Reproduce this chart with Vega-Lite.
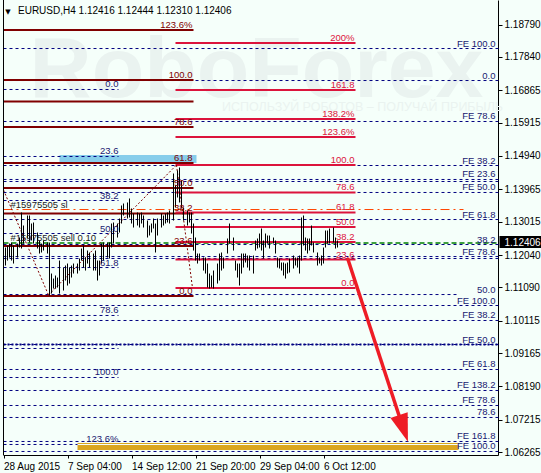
{
 "$schema": "https://vega.github.io/schema/vega-lite/v6.json",
 "width": 495,
 "height": 455,
 "autosize": {"type": "none"},
 "padding": {"left": 3, "top": 0, "right": 43, "bottom": 18},
 "background": "#F5FFFA",
 "config": {
  "view": {"stroke": null},
  "axis": {"grid": false, "labelFont": "Liberation Sans", "labelFontSize": 10, "labelColor": "#000000", "domainColor": "#000000", "tickColor": "#000000", "title": null, "labelOverlap": false},
  "text": {"font": "Liberation Sans", "fontSize": 9.5}
 },
 "datasets": {
  "bars": [
   {"i":1,"h":1.12259,"l":1.11732},{"i":2,"h":1.12318,"l":1.11878},{"i":3,"h":1.12376,"l":1.11966},{"i":4,"h":1.12406,"l":1.11878},
   {"i":5,"h":1.12318,"l":1.11790},{"i":7,"h":1.12376,"l":1.11966},{"i":8,"h":1.12552,"l":1.12259},{"i":9,"h":1.13285,"l":1.12230},
   {"i":10,"h":1.12904,"l":1.12376},{"i":12,"h":1.13197,"l":1.12523},{"i":13,"h":1.13197,"l":1.12406},{"i":14,"h":1.12962,"l":1.12464},
   {"i":15,"h":1.12992,"l":1.12376},{"i":17,"h":1.12699,"l":1.12230},{"i":18,"h":1.12464,"l":1.12083},{"i":19,"h":1.12376,"l":1.12113},
   {"i":20,"h":1.12464,"l":1.12171},{"i":22,"h":1.12406,"l":1.12083},{"i":23,"h":1.12406,"l":1.10853},{"i":24,"h":1.11497,"l":1.10911},
   {"i":25,"h":1.11351,"l":1.11058},{"i":26,"h":1.11439,"l":1.11058},{"i":27,"h":1.11380,"l":1.11087},{"i":28,"h":1.11878,"l":1.10911},
   {"i":30,"h":1.11673,"l":1.10999},{"i":31,"h":1.11732,"l":1.11292},{"i":32,"h":1.11790,"l":1.11146},{"i":33,"h":1.11673,"l":1.11204},
   {"i":34,"h":1.11732,"l":1.11380},{"i":35,"h":1.11790,"l":1.11497},{"i":37,"h":1.11790,"l":1.11497},{"i":38,"h":1.11937,"l":1.11585},
   {"i":39,"h":1.12230,"l":1.11878},{"i":40,"h":1.12318,"l":1.11673},{"i":41,"h":1.11966,"l":1.11585},{"i":42,"h":1.12171,"l":1.11790},
   {"i":43,"h":1.12113,"l":1.11673},{"i":45,"h":1.12083,"l":1.11585},{"i":46,"h":1.12171,"l":1.11585},{"i":47,"h":1.11878,"l":1.11292},
   {"i":48,"h":1.11878,"l":1.11439},{"i":49,"h":1.12376,"l":1.11790},{"i":50,"h":1.12406,"l":1.11878},{"i":52,"h":1.12406,"l":1.11966},
   {"i":53,"h":1.12406,"l":1.11937},{"i":54,"h":1.12962,"l":1.12259},{"i":55,"h":1.12992,"l":1.12376},{"i":57,"h":1.12962,"l":1.12552},
   {"i":58,"h":1.13109,"l":1.12699},{"i":59,"h":1.13490,"l":1.12962},{"i":60,"h":1.13548,"l":1.13197},{"i":62,"h":1.13578,"l":1.13109},
   {"i":63,"h":1.13695,"l":1.13138},{"i":64,"h":1.13402,"l":1.12962},{"i":65,"h":1.13255,"l":1.12845},{"i":67,"h":1.13285,"l":1.12904},
   {"i":68,"h":1.13255,"l":1.12845},{"i":69,"h":1.13285,"l":1.12962},{"i":70,"h":1.13197,"l":1.12845},{"i":72,"h":1.13050,"l":1.12552},
   {"i":73,"h":1.12904,"l":1.12611},{"i":74,"h":1.12962,"l":1.12699},{"i":75,"h":1.13109,"l":1.12816},{"i":76,"h":1.12962,"l":1.12113},
   {"i":77,"h":1.13109,"l":1.12611},{"i":79,"h":1.13255,"l":1.12845},{"i":80,"h":1.13197,"l":1.12904},{"i":81,"h":1.13255,"l":1.12962},
   {"i":82,"h":1.13285,"l":1.12992},{"i":83,"h":1.13343,"l":1.12962},{"i":85,"h":1.14427,"l":1.13050},{"i":86,"h":1.14076,"l":1.13431},
   {"i":87,"h":1.14515,"l":1.13724},{"i":88,"h":1.14603,"l":1.13578},{"i":89,"h":1.14222,"l":1.13402},{"i":90,"h":1.13431,"l":1.13050},
   {"i":92,"h":1.13343,"l":1.12904},{"i":93,"h":1.13285,"l":1.12992},{"i":94,"h":1.13285,"l":1.12669},{"i":95,"h":1.12962,"l":1.12171},
   {"i":96,"h":1.12552,"l":1.11878},{"i":97,"h":1.12083,"l":1.11790},{"i":98,"h":1.12083,"l":1.11878},{"i":100,"h":1.11966,"l":1.11585},
   {"i":101,"h":1.11966,"l":1.11497},{"i":102,"h":1.11790,"l":1.11087},{"i":103,"h":1.11497,"l":1.11058},{"i":104,"h":1.11439,"l":1.11087},
   {"i":105,"h":1.11585,"l":1.11058},{"i":107,"h":1.11790,"l":1.11204},{"i":108,"h":1.12083,"l":1.11292},{"i":109,"h":1.12113,"l":1.11585},
   {"i":110,"h":1.11966,"l":1.11644},{"i":112,"h":1.12523,"l":1.12083},{"i":113,"h":1.12962,"l":1.12376},{"i":115,"h":1.12552,"l":1.12171},
   {"i":116,"h":1.11878,"l":1.11585},{"i":117,"h":1.11790,"l":1.11380},{"i":118,"h":1.11790,"l":1.11146},{"i":119,"h":1.12083,"l":1.11497},
   {"i":120,"h":1.12083,"l":1.11673},{"i":121,"h":1.12083,"l":1.11820},{"i":122,"h":1.12025,"l":1.11673},{"i":123,"h":1.12025,"l":1.11585},
   {"i":125,"h":1.12025,"l":1.11497},{"i":126,"h":1.12464,"l":1.12171},{"i":127,"h":1.12523,"l":1.12230},{"i":128,"h":1.12669,"l":1.12259},
   {"i":129,"h":1.12816,"l":1.12171},{"i":130,"h":1.12464,"l":1.11937},{"i":131,"h":1.12669,"l":1.12259},{"i":132,"h":1.12611,"l":1.12376},
   {"i":133,"h":1.12611,"l":1.12230},{"i":135,"h":1.12552,"l":1.12376},{"i":136,"h":1.12464,"l":1.12083},{"i":137,"h":1.11966,"l":1.11673},
   {"i":138,"h":1.11937,"l":1.11644},{"i":139,"h":1.11820,"l":1.11585},{"i":140,"h":1.11820,"l":1.11439},{"i":141,"h":1.11790,"l":1.11351},
   {"i":142,"h":1.11820,"l":1.11497},{"i":143,"h":1.11937,"l":1.11527},{"i":145,"h":1.12025,"l":1.11644},{"i":146,"h":1.11966,"l":1.11732},
   {"i":147,"h":1.11966,"l":1.11673},{"i":148,"h":1.12025,"l":1.11497},{"i":149,"h":1.13138,"l":1.11878},{"i":150,"h":1.13197,"l":1.12318},
   {"i":151,"h":1.12552,"l":1.12171},{"i":152,"h":1.12523,"l":1.12083},{"i":153,"h":1.12523,"l":1.12171},{"i":154,"h":1.12904,"l":1.12318},
   {"i":155,"h":1.12406,"l":1.12113},{"i":157,"h":1.12113,"l":1.11732},{"i":158,"h":1.11966,"l":1.11790},{"i":159,"h":1.12025,"l":1.11732},
   {"i":160,"h":1.12259,"l":1.11790},{"i":161,"h":1.12757,"l":1.12259},{"i":162,"h":1.12757,"l":1.12376},{"i":163,"h":1.12816,"l":1.12376},
   {"i":165,"h":1.12845,"l":1.12406},{"i":166,"h":1.12552,"l":1.12230},{"i":167,"h":1.12464,"l":1.12259}
  ],
  "navy": [
   {"p":1.18087,"a":0,"b":247.5,"lx":246,"t":"FE 100.0"},
   {"p":1.17150,"a":0,"b":247.5,"lx":246,"t":"0.0"},
   {"p":1.15950,"a":0,"b":247.5,"lx":246,"t":"FE 78.6"},
   {"p":1.14661,"a":0,"b":247.5,"lx":246,"t":"FE 38.2"},
   {"p":1.14252,"a":0,"b":247.5,"lx":246,"t":"FE 23.6"},
   {"p":1.14193,"a":0,"b":247.5,"lx":246,"t":""},
   {"p":1.13871,"a":0,"b":247.5,"lx":246,"t":"FE 50.0"},
   {"p":1.13079,"a":0,"b":247.5,"lx":246,"t":"FE 61.8"},
   {"p":1.12347,"a":0,"b":247.5,"lx":246,"t":"38.2"},
   {"p":1.11995,"a":0,"b":247.5,"lx":246,"t":"FE 78.6"},
   {"p":1.11937,"a":0,"b":247.5,"lx":246,"t":""},
   {"p":1.10882,"a":0,"b":227,"lx":246,"t":"50.0"},
   {"p":1.10561,"a":0,"b":247.5,"lx":246,"t":"FE 100.0"},
   {"p":1.10122,"a":0,"b":247.5,"lx":246,"t":"FE 38.2"},
   {"p":1.09419,"a":0,"b":247.5,"lx":246,"t":"FE 50.0"},
   {"p":1.08687,"a":0,"b":247.5,"lx":246,"t":"FE 61.8"},
   {"p":1.08072,"a":0,"b":247.5,"lx":246,"t":"FE 138.2"},
   {"p":1.07633,"a":0,"b":247.5,"lx":246,"t":"FE 78.6"},
   {"p":1.07282,"a":0,"b":247.5,"lx":246,"t":"78.6"},
   {"p":1.06579,"a":0,"b":247.5,"lx":246,"t":"FE 161.8"},
   {"p":1.06286,"a":0,"b":247.5,"lx":246,"t":"FE 100.0"},
   {"p":1.16887,"a":0,"b":57.5,"lx":57.5,"t":"0.0"},
   {"p":1.14925,"a":0,"b":57.5,"lx":57.5,"t":"23.6"},
   {"p":1.13636,"a":0,"b":57.5,"lx":57.5,"t":"38.2"},
   {"p":1.12669,"a":0,"b":57.5,"lx":57.5,"t":"50.0"},
   {"p":1.11673,"a":0,"b":57.5,"lx":57.5,"t":"61.8"},
   {"p":1.10269,"a":0,"b":57.5,"lx":57.5,"t":"78.6"},
   {"p":1.09302,"a":0,"b":57.5,"lx":57.5,"t":""},
   {"p":1.08453,"a":0,"b":57.5,"lx":57.5,"t":"100.0"},
   {"p":1.06491,"a":0,"b":37,"lx":57.5,"t":"123.6%"}
  ],
  "maroon": [
   {"p":1.18629,"t":"123.6%"},{"p":1.17165,"t":"100.0"},{"p":1.16536,"t":""},{"p":1.15789,"t":"78.6"},
   {"p":1.14735,"t":"61.8"},{"p":1.14003,"t":"50.0"},{"p":1.13256,"t":"38.2"},{"p":1.12303,"t":"23.6"},{"p":1.10839,"t":"0.0"}
  ],
  "red": [
   {"p":1.18249,"t":"200%"},{"p":1.16872,"t":"161.8"},{"p":1.16023,"t":"138.2%"},{"p":1.15496,"t":"123.6%"},
   {"p":1.14676,"t":"100.0"},{"p":1.13871,"t":"78.6"},{"p":1.13285,"t":"61.8"},{"p":1.12860,"t":"50.0"},
   {"p":1.12421,"t":"38.2"},{"p":1.11908,"t":"23.6"},{"p":1.11073,"t":"0.0"}
  ],
  "orders": [
   {"k":"sl","p":1.13372,"a":0,"b":230,"lx":3.5,"t":"#15975505 sl"},
   {"k":"entry","p":1.12391,"a":0,"b":247.5,"lx":3.5,"t":"#15975505 sell 0.10"}
  ]
 },
 "layer": [
  {
   "data": {"values": [{"i":126.5,"p":1.16667,"t":"RoboForex"}]},
   "mark": {"type":"text","fontSize":86,"fontWeight":"bold","color":"#eaf3f0","align":"center","baseline":"alphabetic"},
   "encoding": {
    "x": {"field":"i","type":"quantitative","scale":{"domain":[-0.25,247.25],"nice":false,"zero":false},
          "axis":{"values":[0,32,64,96,128,160],"tickCount":30,"tickSize":3,"labelAlign":"left","labelPadding":3,"labelFlush":false,"labelOverlap":false,"labelBound":false,"title":null,
          "labelExpr":"datum.value == 0 ? '28 Aug 2015' : datum.value == 32 ? '7 Sep 04:00' : datum.value == 64 ? '14 Sep 12:00' : datum.value == 96 ? '21 Sep 20:00' : datum.value == 128 ? '29 Sep 04:00' : '6 Oct 12:00'"}},
    "y": {"field":"p","type":"quantitative","scale":{"domain":[1.06183,1.19508],"nice":false,"zero":false},
          "axis":{"orient":"right","title":null,"values":[1.18790,1.17840,1.16865,1.15915,1.14940,1.13965,1.13015,1.12040,1.11090,1.10115,1.09165,1.08190,1.07215,1.06265],"tickCount":40,"format":".5f","tickSize":4,"labelPadding":2,"labelOverlap":false,"labelFlush":false,"labelBound":false}},
    "text": {"field":"t"}
   }
  },
  {
   "data": {"values": [{"i":179.5,"p":1.16257,"t":"ИСПОЛЬЗУЙ РОБОТОВ – ПОЛУЧАЙ ПРИБЫЛЬ"}]},
   "mark": {"type":"text","fontSize":12.5,"color":"#eaf3f0","align":"center","baseline":"alphabetic"},
   "encoding": {
    "x": {"field":"i","type":"quantitative","title":null},
    "y": {"field":"p","type":"quantitative","title":null},
    "text": {"field":"t"}
   }
  },
  {
   "data": {"values": [{"a":28,"b":96.5,"p1":1.14969,"p2":1.14735}]},
   "mark": {"type":"rect","color":"#87CEEB"},
   "encoding": {
    "x": {"field":"a","type":"quantitative","title":null},
    "x2": {"field":"b"},
    "y": {"field":"p1","type":"quantitative","title":null},
    "y2": {"field":"p2"}
   }
  },
  {
   "data": {"name":"navy"},
   "mark": {"type":"rule","color":"#000080","strokeWidth":1,"strokeDash":[3,3]},
   "encoding": {
    "x": {"field":"a","type":"quantitative","title":null},
    "x2": {"field":"b"},
    "y": {"field":"p","type":"quantitative","title":null}
   }
  },
  {
   "data": {"name":"navy"},
   "transform": [{"filter":"datum.p == 1.09419"}],
   "mark": {"type":"rule","color":"#000080","strokeWidth":2,"strokeDash":[2,2]},
   "encoding": {
    "x": {"field":"a","type":"quantitative","title":null},
    "x2": {"field":"b"},
    "y": {"field":"p","type":"quantitative","title":null}
   }
  },
  {
   "data": {"name":"orders"},
   "transform": [{"filter":"datum.k == 'sl'"}],
   "mark": {"type":"rule","color":"#FF4500","strokeWidth":1,"strokeDash":[9,4,2,4]},
   "encoding": {
    "x": {"field":"a","type":"quantitative","title":null},
    "x2": {"field":"b"},
    "y": {"field":"p","type":"quantitative","title":null}
   }
  },
  {
   "data": {"name":"orders"},
   "transform": [{"filter":"datum.k == 'entry'"}],
   "mark": {"type":"rule","color":"#008000","strokeWidth":1.3,"strokeDash":[5,3]},
   "encoding": {
    "x": {"field":"a","type":"quantitative","title":null},
    "x2": {"field":"b"},
    "y": {"field":"p","type":"quantitative","title":null}
   }
  },
  {
   "data": {"name":"maroon"},
   "mark": {"type":"rule","color":"#800000","strokeWidth":2},
   "encoding": {
    "x": {"datum":0,"type":"quantitative","title":null},
    "x2": {"datum":95},
    "y": {"field":"p","type":"quantitative","title":null}
   }
  },
  {
   "data": {"name":"red"},
   "mark": {"type":"rule","color":"#DC143C","strokeWidth":2},
   "encoding": {
    "x": {"datum":86,"type":"quantitative","title":null},
    "x2": {"datum":176},
    "y": {"field":"p","type":"quantitative","title":null}
   }
  },
  {
   "data": {"values": [
    {"a":0,"pa":1.13944,"b":22.5,"pb":1.10868},
    {"a":22.5,"pa":1.10868,"b":86.5,"pb":1.14676},
    {"a":86.5,"pa":1.14676,"b":94.5,"pb":1.11073}
   ]},
   "mark": {"type":"rule","color":"#800000","strokeWidth":1,"strokeDash":[2,2]},
   "encoding": {
    "x": {"field":"a","type":"quantitative","title":null},
    "x2": {"field":"b"},
    "y": {"field":"pa","type":"quantitative","title":null},
    "y2": {"field":"pb"}
   }
  },
  {
   "data": {"name":"bars"},
   "mark": {"type":"rule","color":"#000000","strokeWidth":1},
   "encoding": {
    "x": {"field":"i","type":"quantitative","title":null},
    "y": {"field":"l","type":"quantitative","title":null},
    "y2": {"field":"h"}
   }
  },
  {
   "data": {"values": [{"a":37,"b":227.5,"p1":1.06477,"p2":1.06330}]},
   "mark": {"type":"rect","color":"#DAA520"},
   "encoding": {"x": {"field":"a","type":"quantitative","title":null},"x2": {"field":"b"},"y": {"field":"p1","type":"quantitative","title":null},"y2": {"field":"p2"}}
  },
  {
   "data": {"values": [{"a":37,"b":227.5,"p0":1.06520}]},
   "mark": {"type":"rule","color":"#DAA520","strokeWidth":1},
   "encoding": {"x": {"field":"a","type":"quantitative","title":null},"x2": {"field":"b"},"y": {"field":"p0","type":"quantitative","title":null}}
  },
  {
   "data": {"values": [{"a":172,"pa":1.11952,"b":198.5,"pb":1.07209}]},
   "mark": {"type":"rule","color":"#EE1C25","strokeWidth":3.5},
   "encoding": {
    "x": {"field":"a","type":"quantitative","title":null},
    "x2": {"field":"b"},
    "y": {"field":"pa","type":"quantitative","title":null},
    "y2": {"field":"pb"}
   }
  },
  {
   "data": {"values": [{"i":200,"p":1.06960}]},
   "mark": {"type":"point","shape":"M0,1L-0.65,-1L0.65,-1Z","size":784,"angle":-18.5,"filled":true,"opacity":1,"color":"#EE1C25"},
   "encoding": {
    "x": {"field":"i","type":"quantitative","title":null},
    "y": {"field":"p","type":"quantitative","title":null}
   }
  },
  {
   "data": {"name":"navy"},
   "mark": {"type":"text","align":"right","baseline":"alphabetic","dy":-2,"color":"#191970"},
   "encoding": {
    "x": {"field":"lx","type":"quantitative","title":null},
    "y": {"field":"p","type":"quantitative","title":null},
    "text": {"field":"t"}
   }
  },
  {
   "data": {"name":"maroon"},
   "mark": {"type":"text","align":"right","baseline":"alphabetic","dy":-2,"color":"#800000"},
   "encoding": {
    "x": {"datum":94.5,"type":"quantitative","title":null},
    "y": {"field":"p","type":"quantitative","title":null},
    "text": {"field":"t"}
   }
  },
  {
   "data": {"name":"red"},
   "mark": {"type":"text","align":"right","baseline":"alphabetic","dy":-2,"color":"#DC143C"},
   "encoding": {
    "x": {"datum":175.5,"type":"quantitative","title":null},
    "y": {"field":"p","type":"quantitative","title":null},
    "text": {"field":"t"}
   }
  },
  {
   "data": {"name":"orders"},
   "mark": {"type":"text","align":"left","baseline":"alphabetic","dy":-2,"color":"#1c1c1c"},
   "encoding": {
    "x": {"field":"lx","type":"quantitative","title":null},
    "y": {"field":"p","type":"quantitative","title":null},
    "text": {"field":"t"}
   }
  },
  {
   "data": {"values": [{"i":7.25,"p":1.19098,"t":"EURUSD,H4  1.12416 1.12444 1.12310 1.12406"}]},
   "mark": {"type":"text","align":"left","baseline":"alphabetic","color":"#000000","fontSize":10},
   "encoding": {"x": {"field":"i","type":"quantitative","title":null},"y": {"field":"p","type":"quantitative","title":null},"text": {"field":"t"}}
  },
  {
   "data": {"values": [{"i":2.25,"p":1.19098,"t":"▼"}]},
   "mark": {"type":"text","align":"center","baseline":"alphabetic","color":"#000000","fontSize":7,"font":"DejaVu Sans"},
   "encoding": {"x": {"field":"i","type":"quantitative","title":null},"y": {"field":"p","type":"quantitative","title":null},"text": {"field":"t"}}
  },
  {
   "data": {"values": [{"a":248,"b":269,"p1":1.12596,"p2":1.12245}]},
   "mark": {"type":"rect","color":"#000000"},
   "encoding": {"x": {"field":"a","type":"quantitative","title":null},"x2": {"field":"b"},"y": {"field":"p1","type":"quantitative","title":null},"y2": {"field":"p2"}}
  },
  {
   "data": {"values": [{"i":250.5,"p":1.12406,"t":"1.12406"}]},
   "mark": {"type":"text","align":"left","baseline":"middle","color":"#FFFFFF","fontSize":10},
   "encoding": {"x": {"field":"i","type":"quantitative","title":null},"y": {"field":"p","type":"quantitative","title":null},"text": {"field":"t"}}
  },
  {
   "data": {"values": [{"v":0}]},
   "mark": {"type":"rule","color":"#000000","strokeWidth":1},
   "encoding": {
    "x": {"field":"v","type":"quantitative","title":null}
   }
  }
 ]
}
